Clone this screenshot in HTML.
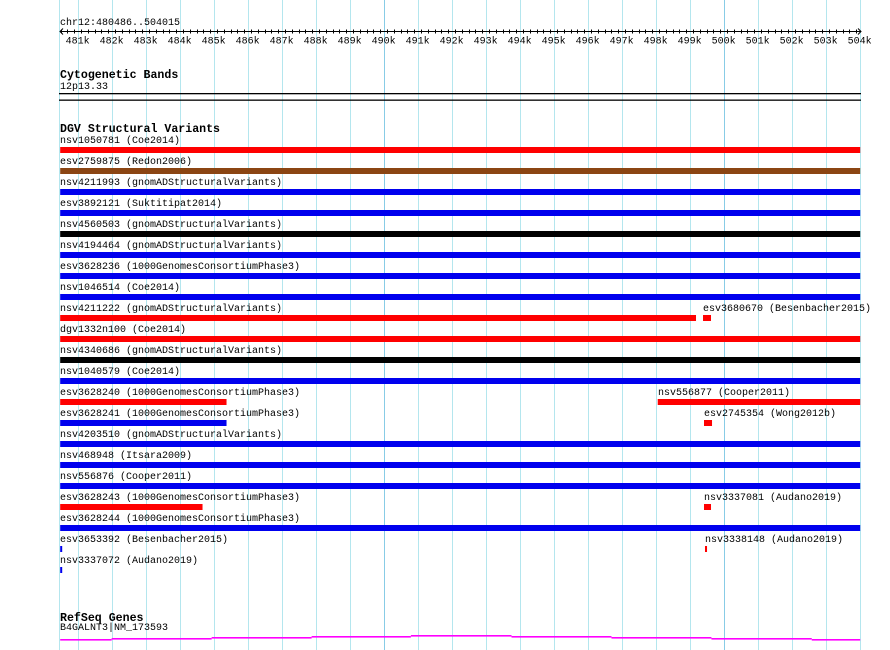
<!DOCTYPE html>
<html><head><meta charset="utf-8"><style>
html,body{margin:0;padding:0;background:#fff}
svg{display:block}
text{font-family:"Liberation Mono",monospace;font-size:10px;fill:#000}
.h{font-weight:bold;font-size:11.6px}
</style></head><body>
<svg id="chart" width="890" height="650" xmlns="http://www.w3.org/2000/svg">
<g id="grid"></g>
<text x="60" y="25">chr12:480486..504015</text>
<g id="ruler"></g>
<text class="h" x="60" y="78">Cytogenetic Bands</text>
<text x="60" y="89">12p13.33</text>
<rect x="59" y="93" width="802" height="1.3" fill="#000"/>
<rect x="59" y="99.5" width="802" height="1.3" fill="#000"/>
<text class="h" x="60" y="132">DGV Structural Variants</text>
<g id="features"></g>
<text class="h" x="60" y="621">RefSeq Genes</text>
<text x="60" y="630">B4GALNT3|NM_173593</text>
<g id="gene"></g>
</svg>
<script>
const viewStart = 480486;
const viewEnd = 504015;
const tickKb = [481,482,483,484,485,486,487,488,489,490,491,492,493,494,495,496,497,498,499,500,501,502,503,504];
const featNames = ["nsv1050781","esv2759875","nsv4211993","esv3892121","nsv4560503","nsv4194464","esv3628236","nsv1046514","nsv4211222","esv3680670","dgv1332n100","nsv4340686","nsv1040579","esv3628240","nsv556877","esv3628241","esv2745354","nsv4203510","nsv468948","nsv556876","esv3628243","nsv3337081","esv3628244","esv3653392","nsv3338148","nsv3337072"];
const featSources = ["Coe2014","Redon2006","gnomADStructuralVariants","Suktitipat2014","gnomADStructuralVariants","gnomADStructuralVariants","1000GenomesConsortiumPhase3","Coe2014","gnomADStructuralVariants","Besenbacher2015","Coe2014","gnomADStructuralVariants","Coe2014","1000GenomesConsortiumPhase3","Cooper2011","1000GenomesConsortiumPhase3","Wong2012b","gnomADStructuralVariants","Itsara2009","Cooper2011","1000GenomesConsortiumPhase3","Audano2019","1000GenomesConsortiumPhase3","Besenbacher2015","Audano2019","Audano2019"];
const featStarts = [480486,480486,480486,480486,480486,480486,480486,480486,480486,499392,480486,480486,480486,480486,498060,480486,499421,480486,480486,480486,480486,499421,480486,480486,499450,480486];
const featEnds = [504015,504015,504015,504015,504015,504015,504015,504015,499186,499627,504015,504015,504015,485378,504015,485378,499657,504015,504015,504015,484672,499627,504015,480540,499510,480540];
const featRows = [0,1,2,3,4,5,6,7,8,8,9,10,11,12,12,13,13,14,15,16,17,17,18,19,19,20];
const featTypes = ["loss","complex","gain","gain","other","gain","gain","gain","loss","loss","loss","other","gain","loss","loss","gain","loss","gain","gain","gain","loss","loss","gain","gain","loss","gain"];
const geneStarts = [480486,482000,484940,487880,490800,493760,496700,499640,502590];
const geneEnds = [482000,484940,487880,490800,493760,496700,499640,502590,504015];
const geneLevels = [0,1,2,3,4,3,2,1,0];

const colors = {loss:"#ff0000",gain:"#0000ee",complex:"#8b4513",other:"#000000"};
const NS = "http://www.w3.org/2000/svg";
const X0 = 60.2, X1 = 860.2;
function xs(p){ return X0 + (p - viewStart) / (viewEnd - viewStart) * (X1 - X0); }
function rowY(r){ return 147 + 21 * r; }
function mk(tag, attrs, parent){ const e = document.createElementNS(NS, tag); for (const k in attrs) e.setAttribute(k, attrs[k]); parent.appendChild(e); return e; }

const grid = document.getElementById('grid');
tickKb.forEach(k => {
  const x = Math.round(xs(k*1000)) + 0.5;
  const l = mk('line', {x1:x, x2:x, y1:0, y2:650, stroke: k%10===0 ? '#88cce6' : '#b4e6ee', 'stroke-width':1}, grid);
  
  
});
const lb = mk('line', {x1:59.5, x2:59.5, y1:0, y2:650, stroke:'#b4e6ee'}, grid);



const ruler = document.getElementById('ruler');
mk('line', {x1:60, x2:861, y1:31.5, y2:31.5, stroke:'#000'}, ruler);
mk('path', {d:'M63 28.5 L60 31.5 L63 34.5 M858 28.5 L861 31.5 L858 34.5', stroke:'#000', fill:'none'}, ruler);
for (let p = 480500; p <= 504000; p += 200) {
  const x = Math.round(xs(p)) + 0.5;
  const major = p % 1000 === 0;
  mk('line', {x1:x, x2:x, y1: major ? 28 : 29.5, y2: major ? 35 : 33.5, stroke:'#000'}, ruler);
}
tickKb.forEach(k => {
  const t = mk('text', {x: xs(k*1000), y: 43.5, 'text-anchor':'middle'}, ruler);
  t.textContent = k + 'k';
  
  
});

const feats = document.getElementById('features');
featNames.forEach((n, i) => {
  const x0 = xs(featStarts[i]), x1 = xs(featEnds[i]);
  const y = rowY(featRows[i]);
  const t = mk('text', {x: Math.round(x0), y: y - 4}, feats);
  t.textContent = n + ' (' + featSources[i] + ')';
  
  
  const r = mk('rect', {x: x0, y: y, width: Math.max(2, x1 - x0), height: 6, fill: colors[featTypes[i]]}, feats);
  
  
});

const gene = document.getElementById('gene');
geneStarts.forEach((s, i) => {
  const r = mk('rect', {x: xs(s), y: 639 - geneLevels[i], width: xs(geneEnds[i]) - xs(s), height: 1.6, fill:'#ff00ff'}, gene);
  
  
});
</script>
</body></html>
